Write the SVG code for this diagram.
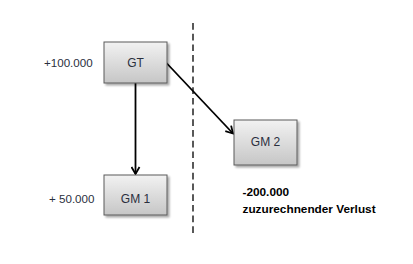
<svg xmlns="http://www.w3.org/2000/svg" width="413" height="264" viewBox="0 0 413 264">
<defs>
<linearGradient id="g" x1="0" y1="0" x2="0" y2="1">
<stop offset="0" stop-color="#f2f2f2"/>
<stop offset="1" stop-color="#c6c6c6"/>
</linearGradient>
<filter id="sh" x="-20%" y="-20%" width="150%" height="150%">
<feGaussianBlur in="SourceAlpha" stdDeviation="1.2"/>
<feOffset dx="1.5" dy="2" result="b"/>
<feComponentTransfer><feFuncA type="linear" slope="0.35"/></feComponentTransfer>
<feMerge><feMergeNode/><feMergeNode in="SourceGraphic"/></feMerge>
</filter>
<marker id="ah" markerWidth="10" markerHeight="10" refX="8" refY="5" orient="auto" markerUnits="userSpaceOnUse">
<path d="M1,1 L8,5 L1,9" fill="none" stroke="#000" stroke-width="1.8"/>
</marker>
</defs>
<style>
.box{fill:url(#g);stroke:#5a5a5a;stroke-width:1;filter:url(#sh)}
.lbl{font-family:"Liberation Sans",Arial,sans-serif;font-size:12px;fill:#2a2f3d;text-anchor:middle}
.val{font-family:"Liberation Sans",Arial,sans-serif;font-size:11.6px;fill:#2a2f3d}
.loss{font-family:"Liberation Sans",Arial,sans-serif;font-size:11.8px;font-weight:bold;fill:#000}
.con{stroke:#000;stroke-width:1.8;fill:none;marker-end:url(#ah)}
</style>
<rect width="413" height="264" fill="#fff"/>
<line x1="193" y1="23" x2="193" y2="237" stroke="#222" stroke-width="1.5" stroke-dasharray="6.7,4"/>
<g id="connectors">
<line class="con" x1="135.5" y1="83" x2="135.5" y2="174"/>
<line class="con" x1="166.5" y1="63" x2="233" y2="133.5"/>
</g>
<g id="GT">
<rect class="box" x="104" y="42" width="63" height="41"/>
<text class="lbl" x="135.5" y="67">GT</text>
</g>
<g id="GM1">
<rect class="box" x="104" y="175" width="63" height="40"/>
<text class="lbl" x="135.5" y="202.5">GM 1</text>
</g>
<g id="GM2">
<rect class="box" x="234" y="120" width="63" height="45"/>
<text class="lbl" x="265.5" y="146">GM 2</text>
</g>
<text class="val" x="44" y="67">+100.000</text>
<text class="val" x="49" y="202.5">+ 50.000</text>
<text class="loss" x="242.5" y="196">-200.000</text>
<text class="loss" x="242.5" y="212.5">zuzurechnender Verlust</text>
</svg>
